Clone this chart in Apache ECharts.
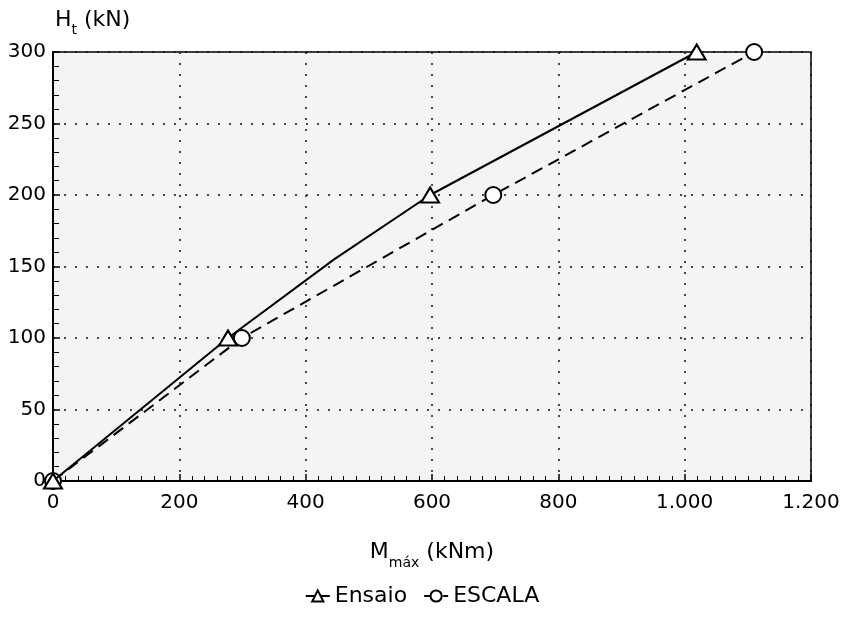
<!DOCTYPE html>
<html>
<head>
<meta charset="utf-8">
<script src="https://cdn.jsdelivr.net/npm/echarts@6/dist/echarts.min.js"></script>
<style>html,body{margin:0;padding:0;background:#fff}#c{width:844px;height:626px}</style>
</head>
<body>
<div id="c"></div>
<script>
// Data
const seriesNames = ['Ensaio', 'ESCALA'];
const ensaioX = [0, 277, 445, 597, 1019];
const ensaioY = [0, 100, 155, 200, 300];
const ensaioMarked = [true, true, false, true, true];
const escalaX = [0, 299, 697, 1110];
const escalaY = [0, 100, 200, 300];
const xTicks = [0, 200, 400, 600, 800, 1000, 1200];
const yTicks = [0, 50, 100, 150, 200, 250, 300];

const FONT = 'DejaVu Sans';
function fmtX(v) {
  if (v >= 1000) { const s = String(v); return s.slice(0, s.length - 3) + '.' + s.slice(-3); }
  return String(v);
}

const chart = echarts.init(document.getElementById('c'), null, {renderer: 'canvas'});
chart.setOption({
  animation: false,
  backgroundColor: '#ffffff',
  grid: {left: 53, right: 33, top: 52, bottom: 145, show: true, borderColor: '#000', borderWidth: 1.5, backgroundColor: '#f4f4f4'},
  legend: {
    data: seriesNames,
    left: 'center', top: 580,
    itemWidth: 24, itemHeight: 14, itemGap: 16,
    textStyle: {fontFamily: FONT, fontSize: 22, color: '#000'}
  },
  xAxis: {
    type: 'value', min: xTicks[0], max: xTicks[xTicks.length - 1], interval: 200,
    name: '{a|M}{b|máx}{a| (kNm)}',
    nameLocation: 'middle', nameGap: 60,
    nameTextStyle: {rich: {
      a: {fontFamily: FONT, fontSize: 22, color: '#000', lineHeight: 24, verticalAlign: 'top'},
      b: {fontFamily: FONT, fontSize: 14, color: '#000', lineHeight: 14, padding: [15, 0, 0, 0], verticalAlign: 'top'}
    }},
    axisLine: {show: true, lineStyle: {color: '#000', width: 2}},
    axisTick: {show: true, inside: true, length: 7, lineStyle: {color: '#000', width: 1.5}},
    minorTick: {show: true, splitNumber: 10, length: 5, lineStyle: {color: '#000', width: 1}},
    axisLabel: {margin: 12, fontFamily: FONT, fontSize: 20, color: '#000', formatter: fmtX},
    splitLine: {show: true, lineStyle: {type: [2, 9], color: '#111', width: 1.5}}
  },
  yAxis: {
    type: 'value', min: yTicks[0], max: yTicks[yTicks.length - 1], interval: 50,
    name: '{a|H}{b|t}{a| (kN)}',
    nameLocation: 'end', nameGap: 19,
    nameTextStyle: {align: 'left', padding: [0, 0, 0, 2], rich: {
      a: {fontFamily: FONT, fontSize: 22, color: '#000', lineHeight: 24, verticalAlign: 'top'},
      b: {fontFamily: FONT, fontSize: 14, color: '#000', lineHeight: 14, padding: [14, 0, 0, 0], verticalAlign: 'top'}
    }},
    axisLine: {show: true, lineStyle: {color: '#000', width: 2}},
    axisTick: {show: true, inside: true, length: 7, lineStyle: {color: '#000', width: 1.5}},
    minorTick: {show: true, splitNumber: 5, length: 6, lineStyle: {color: '#000', width: 1}},
    axisLabel: {margin: 7, fontFamily: FONT, fontSize: 20, color: '#000'},
    splitLine: {show: true, lineStyle: {type: [2, 9], color: '#111', width: 1.5}}
  },
  series: [
    {
      name: seriesNames[0], type: 'line',
      data: ensaioX.map((x, i) => ensaioMarked[i] ? [x, ensaioY[i]] : {value: [x, ensaioY[i]], symbol: 'none'}),
      symbol: 'triangle', symbolSize: [18, 15], showAllSymbol: true, z: 3,
      lineStyle: {color: '#000', width: 2, type: 'solid'},
      itemStyle: {color: '#fff', borderColor: '#000', borderWidth: 2}
    },
    {
      name: seriesNames[1], type: 'line',
      data: escalaX.map((x, i) => [x, escalaY[i]]),
      symbol: 'circle', symbolSize: 16, showAllSymbol: true, z: 2,
      lineStyle: {color: '#000', width: 2, type: [12, 7]},
      itemStyle: {color: '#fff', borderColor: '#000', borderWidth: 2}
    }
  ]
});
</script>
</body>
</html>
